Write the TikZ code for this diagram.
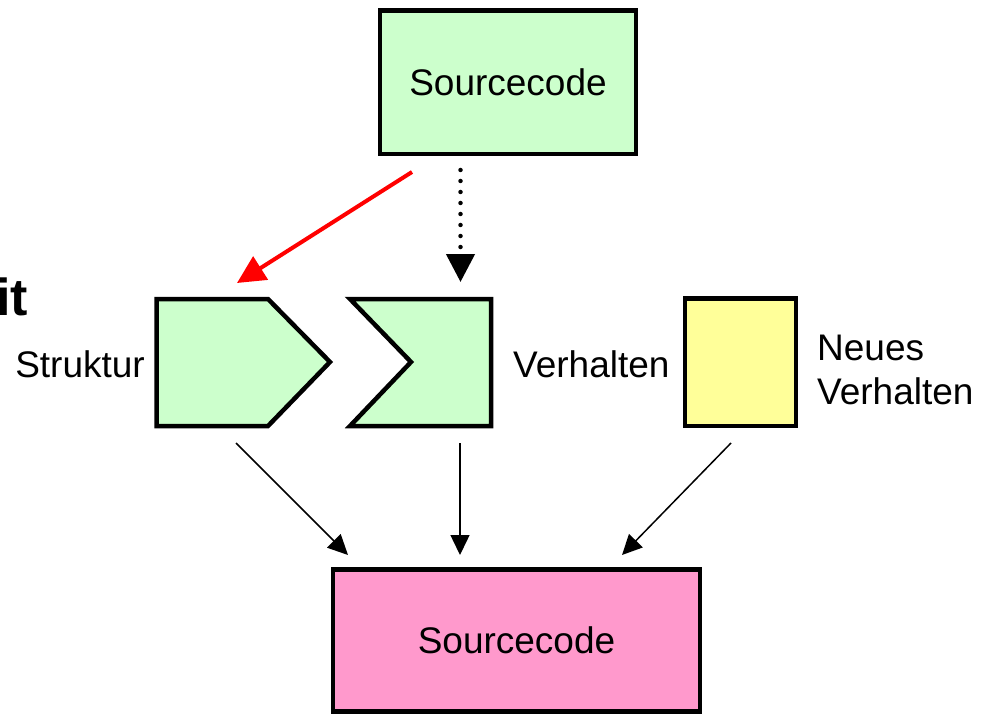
\documentclass[tikz,border=0pt]{standalone}
\usepackage{fontspec}
\setmainfont{Liberation Sans}
\usetikzlibrary{arrows.meta}
\definecolor{lgreen}{HTML}{CCFFCC}
\definecolor{lyellow}{HTML}{FFFF99}
\definecolor{lpink}{HTML}{FF99CC}
\begin{document}
\begin{tikzpicture}[x=1pt,y=-1pt,
  box/.style={draw, line width=4.5pt, line join=miter, inner sep=0pt},
  lbl/.style={font=\fontsize{37}{44}\selectfont, inner sep=0pt},
  thinarrow/.style={line width=1.5pt, -{Triangle[length=20pt,width=19pt]}},
  redarrow/.style={draw=red, line width=4pt, -{Triangle[length=28pt,width=27pt]}},
  dotarrow/.style={line width=4.5pt, line cap=round, dash pattern=on 0pt off 11pt, -{Triangle[length=28pt,width=28pt,line cap=butt]}},
]
\useasboundingbox (0,0) rectangle (985,714);
\fill[white] (0,0) rectangle (985,714);

% top source box
\node[box, fill=lgreen, minimum width=256pt, minimum height=143.5pt, font=\fontsize{37}{44}\selectfont] (src) at (508,82.25) {Sourcecode};

% bottom source box
\node[box, fill=lpink, minimum width=367pt, minimum height=142pt, font=\fontsize{37}{44}\selectfont] (out) at (516.5,640.5) {Sourcecode};

% Struktur shape
\draw[box, fill=lgreen] (156.5,299) -- (268,299) -- (330,362) -- (268,426) -- (156.5,426) -- cycle;
% Verhalten shape
\draw[box, fill=lgreen] (350,299) -- (491,299) -- (491,426) -- (350,426) -- (411,362) -- cycle;
% Neues Verhalten box
\node[box, fill=lyellow, minimum width=111pt, minimum height=127.5pt] (neu) at (740.5,362.25) {};

% labels
\node[font=\fontsize{52}{60}\bfseries\selectfont, inner sep=0pt, anchor=base east] (it) at (28,315) {it};
\node[lbl, anchor=base east] (struk) at (145,377) {Struktur};
\node[lbl, anchor=base west] (verh) at (513,377) {Verhalten};
\node[lbl, anchor=base west] (neuA) at (817,360) {Neues};
\node[lbl, anchor=base west] (neuB) at (817,404) {Verhalten};

% connector end points
\coordinate (r1) at (412,172);
\coordinate (r2) at (237,283);
\coordinate (d1) at (460.5,170);
\coordinate (d2) at (460.5,282);
\coordinate (a1) at (236,443);
\coordinate (a2) at (348,555);
\coordinate (b1) at (460,443);
\coordinate (b2) at (460,555);
\coordinate (c1) at (731,443);
\coordinate (c2) at (622,555);

\draw[redarrow] (r1) -- (r2);
\draw[dotarrow] (d1) -- (d2);
\draw[thinarrow] (a1) -- (a2);
\draw[thinarrow] (b1) -- (b2);
\draw[thinarrow] (c1) -- (c2);
\end{tikzpicture}
\end{document}
